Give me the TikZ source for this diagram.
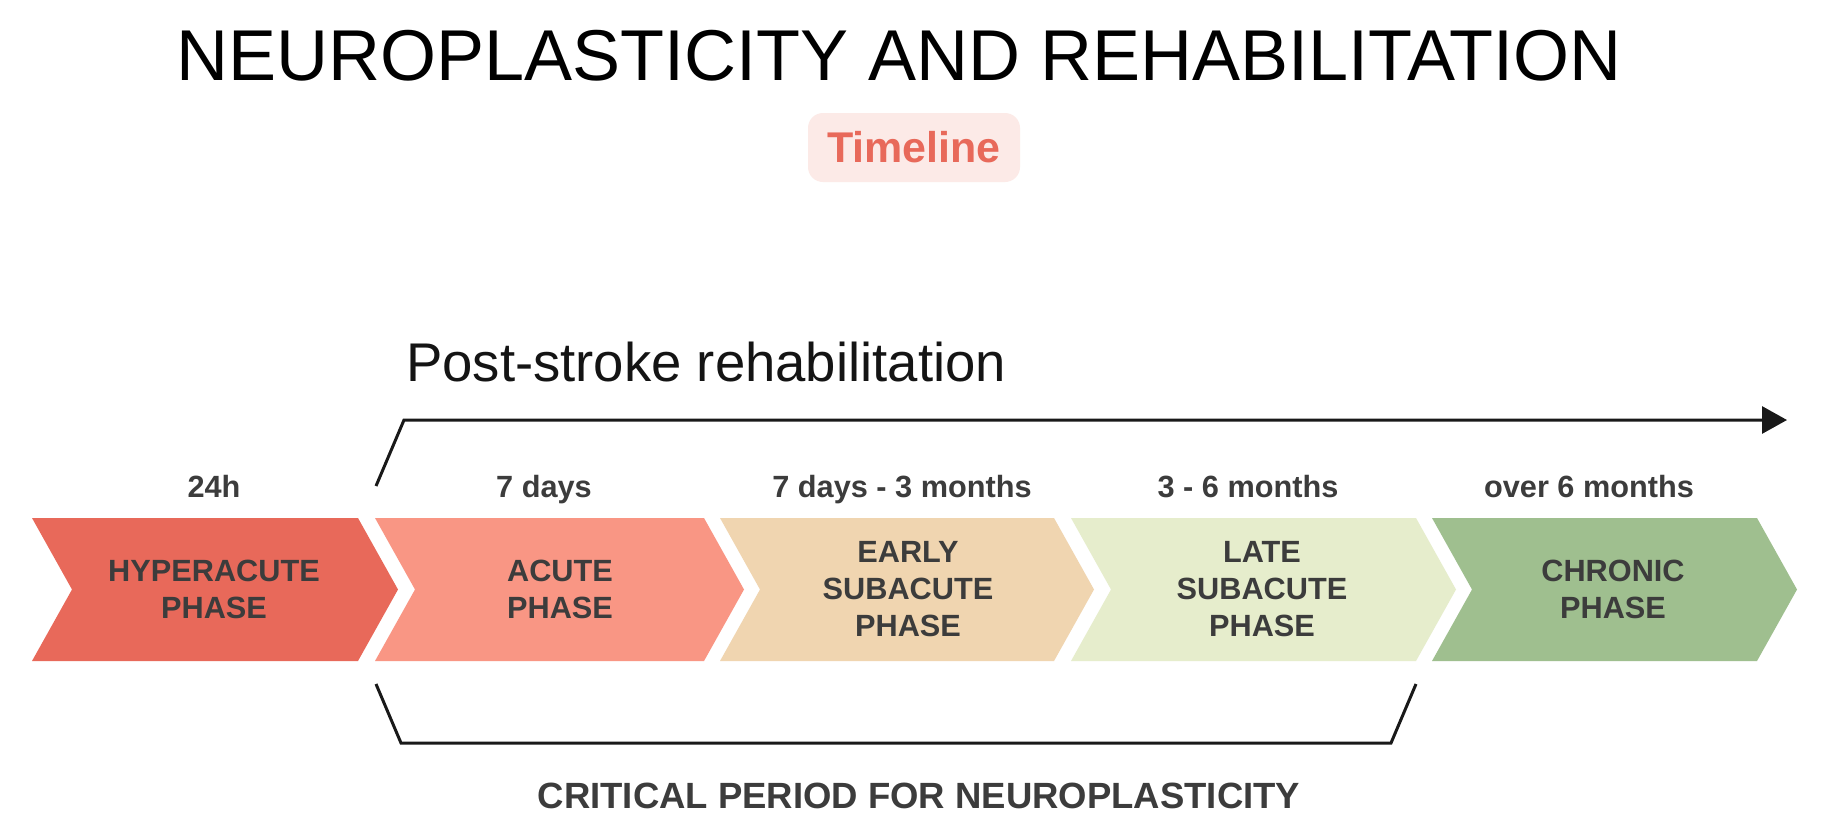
\documentclass[tikz,border=0pt]{standalone}
\usepackage{fontspec}
\setmainfont{Liberation Sans}
\usetikzlibrary{arrows.meta}
\definecolor{chA}{HTML}{E8695A}
\definecolor{chB}{HTML}{F99684}
\definecolor{chC}{HTML}{F0D5B0}
\definecolor{chD}{HTML}{E6EDCC}
\definecolor{chE}{HTML}{9FBF8F}
\definecolor{txtgray}{HTML}{3C3C3C}
\definecolor{pinkbg}{HTML}{FCEAE7}
\definecolor{tlred}{HTML}{E8695A}
\tikzset{
  phasetext/.style={font=\fontsize{30.7}{37}\selectfont\bfseries, text=txtgray, align=center, inner sep=0pt},
  timelabel/.style={font=\fontsize{30.7}{37}\selectfont\bfseries, text=txtgray, anchor=base, inner sep=0pt},
  lineblack/.style={line width=3pt, draw=black!90, line join=miter},
}
\newcommand{\chevronshape}[3]{%
  \fill[#3] (#1,518) -- (#2,518) -- ({#2+40},589.5) -- (#2,661) -- (#1,661) -- ({#1+40},589.5) -- cycle;}
\begin{document}
\begin{tikzpicture}[x=1pt,y=-1pt]
\useasboundingbox[fill=white] (0,0) rectangle (1822,833);

% title
\node[anchor=base, inner sep=0pt, font=\fontsize{72}{80}\selectfont] (title) at (899,80) {NEUROPLASTICITY AND REHABILITATION};

% timeline tag
\node[fill=pinkbg, rounded corners=15pt, minimum width=212pt, minimum height=69pt, inner sep=0pt,
      text=tlred, font=\fontsize{43}{50}\selectfont\bfseries] (tag) at (914,147.5) {Timeline};

% post-stroke rehabilitation
\node[anchor=base west, inner sep=0pt, font=\fontsize{54.5}{60}\selectfont, text=black!92] (post) at (406,381) {Post-stroke rehabilitation};

% arrow
\coordinate (arA) at (376,486);
\coordinate (arB) at (404,420);
\coordinate (arC) at (1787,420);
\draw[lineblack, -{Triangle[length=25pt,width=27pt]}] (arA) -- (arB) -- (arC);

% chevrons
\chevronshape{32}{358}{chA}
\chevronshape{375}{704}{chB}
\chevronshape{720}{1054}{chC}
\chevronshape{1071}{1416}{chD}
\chevronshape{1432}{1757}{chE}

% phase texts
\node[phasetext] (p1) at (214,589.5) {HYPERACUTE\\PHASE};
\node[phasetext] (p2) at (560,589.5) {ACUTE\\PHASE};
\node[phasetext] (p3) at (908,589.5) {EARLY\\SUBACUTE\\PHASE};
\node[phasetext] (p4) at (1262,589.5) {LATE\\SUBACUTE\\PHASE};
\node[phasetext] (p5) at (1613,589.5) {CHRONIC\\PHASE};

% time labels
\node[timelabel] (t1) at (214,497) {24h};
\node[timelabel] (t2) at (544,497) {7 days};
\node[timelabel] (t3) at (902,497) {7 days - 3 months};
\node[timelabel] (t4) at (1248,497) {3 - 6 months};
\node[timelabel] (t5) at (1589,497) {over 6 months};

% bracket
\coordinate (brA) at (376,684);
\coordinate (brB) at (401,743);
\coordinate (brC) at (1391,743);
\coordinate (brD) at (1416,684);
\draw[lineblack] (brA) -- (brB) -- (brC) -- (brD);

\node[anchor=base, inner sep=0pt, font=\fontsize{36.5}{40}\selectfont\bfseries, text=txtgray] (crit) at (919,808) {CRITICAL PERIOD FOR NEUROPLASTICITY};
\end{tikzpicture}
\end{document}
